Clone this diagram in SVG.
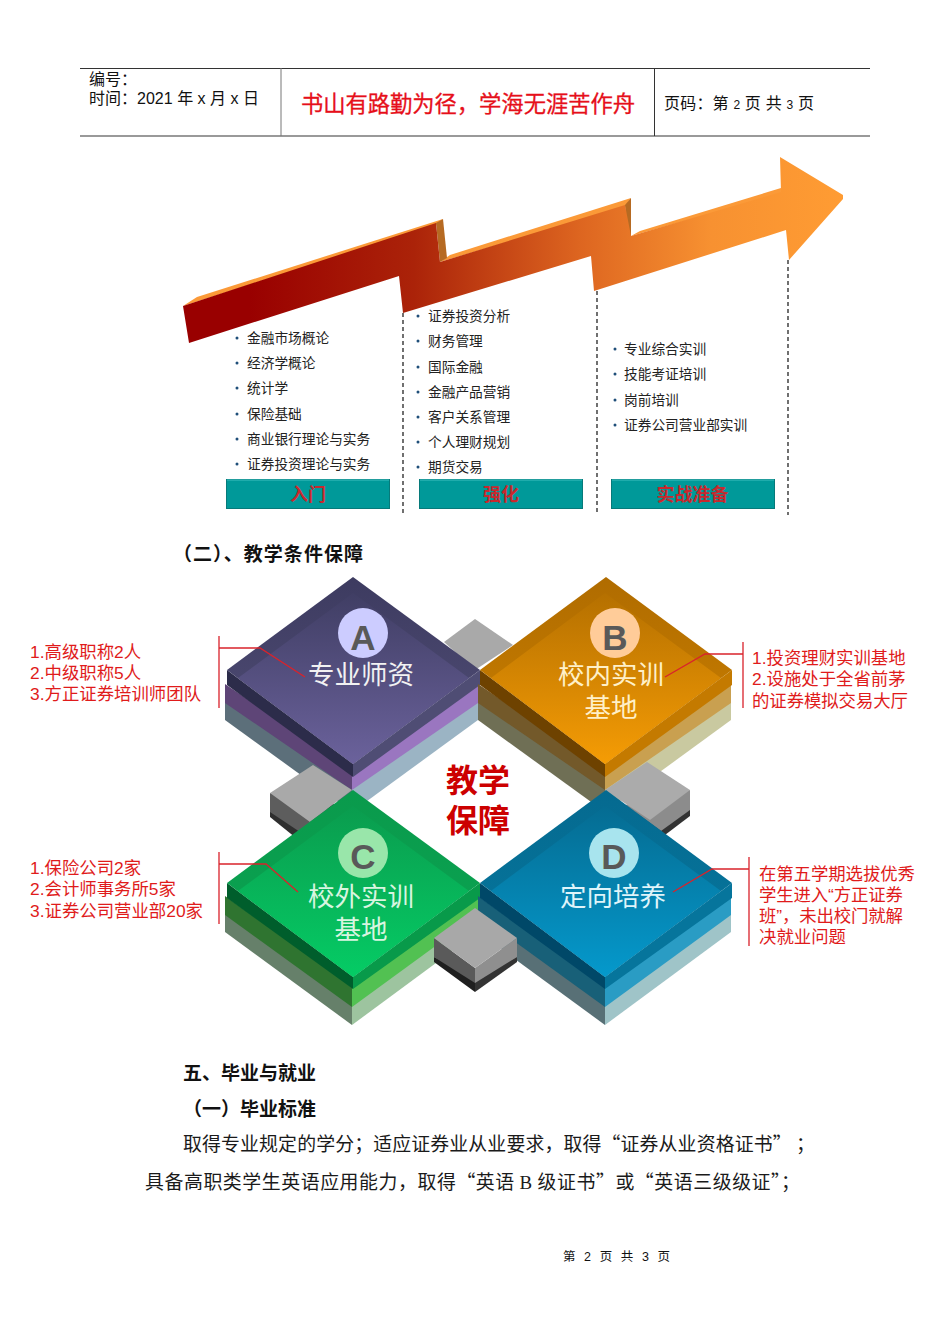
<svg xmlns="http://www.w3.org/2000/svg" width="950" height="1344" viewBox="0 0 950 1344" lang="zh-CN">
<style>
text{font-family:"Liberation Sans","Noto Sans CJK SC",sans-serif}
.blk{fill:#111}
.li{font-size:13.7px;fill:#222}
.dot{fill:#1f4e79}
.btn{font-size:18px;font-weight:bold;fill:#c8282d;text-anchor:middle}
.rd{font-size:17.4px;fill:#e01b1b}
.call{stroke:#d9232b;stroke-width:1.3;fill:none}
.dash{stroke:#111;stroke-width:1.2;stroke-dasharray:4 3;fill:none}
.lab{font-size:26.5px;fill:#f2f2f2;text-anchor:middle}
.let{font-size:35px;font-weight:bold;fill:#595959;text-anchor:middle}
.body{font-size:18.9px;fill:#1a1a1a;font-family:"Noto Sans CJK SC",sans-serif}
.head{font-size:19px;font-weight:bold;fill:#111}
.tbtn{fill:#009999;stroke:#067a7a;stroke-width:1}
.hi{stroke:#3fc0c0;stroke-width:1;fill:none}
</style>
<defs>
<linearGradient id="ar" gradientUnits="userSpaceOnUse" x1="183" y1="0" x2="843" y2="0">
<stop offset="0.1" stop-color="#990000"/><stop offset="0.35" stop-color="#ab2309"/><stop offset="0.6" stop-color="#dd6520"/><stop offset="0.8" stop-color="#f79131"/><stop offset="1" stop-color="#ff9c33"/>
</linearGradient>
<linearGradient id="ao" x1="0" y1="0" x2="0" y2="1"><stop offset="0" stop-color="#3d3b60"/><stop offset="1" stop-color="#524f78"/></linearGradient>
<linearGradient id="ga" x1="0" y1="0" x2="0" y2="1"><stop offset="0" stop-color="#403e64"/><stop offset="1" stop-color="#6b629c"/></linearGradient>
<linearGradient id="bo" x1="0" y1="0" x2="0" y2="1"><stop offset="0" stop-color="#b06c00"/><stop offset="1" stop-color="#cc8000"/></linearGradient>
<linearGradient id="gb" x1="0" y1="0" x2="0" y2="1"><stop offset="0" stop-color="#b57000"/><stop offset="1" stop-color="#f59c05"/></linearGradient>
<linearGradient id="co" x1="0" y1="0" x2="0" y2="1"><stop offset="0" stop-color="#0a9a4c"/><stop offset="1" stop-color="#0aa552"/></linearGradient>
<linearGradient id="gc" x1="0" y1="0" x2="0" y2="1"><stop offset="0" stop-color="#0a9c4e"/><stop offset="1" stop-color="#05cc65"/></linearGradient>
<linearGradient id="do" x1="0" y1="0" x2="0" y2="1"><stop offset="0" stop-color="#056a90"/><stop offset="1" stop-color="#06789f"/></linearGradient>
<linearGradient id="gd" x1="0" y1="0" x2="0" y2="1"><stop offset="0" stop-color="#056c92"/><stop offset="1" stop-color="#0599cc"/></linearGradient>
</defs>

<g id="header">
<path d="M80 68.500H870" stroke="#333" stroke-width="1"/>
<path d="M80 136H870" stroke="#777" stroke-width="1.500"/>
<path d="M281 68V136" stroke="#777"/>
<path d="M654.500 68V136" stroke="#333"/>
<text class="blk" x="89" y="85" font-size="16">编号：</text>
<text class="blk" x="89" y="104" font-size="16" textLength="170">时间：2021 年 x 月 x 日</text>
<text x="301" y="112" font-size="22.300" fill="#e60f1a" stroke="#e60f1a" stroke-width="0.300" textLength="334">书山有路勤为径，学海无涯苦作舟</text>
<text class="blk" x="664" y="109" font-size="16" textLength="150">页码：第 <tspan font-size="12">2</tspan> 页  共 <tspan font-size="12">3</tspan> 页</text>
</g>

<g id="arrow">
<polygon fill="#fb9a38" points="183,306 197,297 443,219 436,225"/>
<polygon fill="#fb9a38" points="440,262 450,255 631,198 625,207"/>
<polygon fill="#fb9a38" points="631,236 640,231 781,188 781,194"/>
<polygon fill="#b66a22" points="436,223 443,219 447,258 440,262"/>
<polygon fill="#b66a22" points="625,205 631,198 631,236 627,238"/>
<polygon fill="url(#ar)" points="183,306 436,223 440,262 625,205 631,236 781,192 780,157 843,195 843,199 789,260 786,230 594,291 591,256 403,313 399,276 189,343"/>
</g>

<g id="col1">
<g class="dot"><circle cx="237" cy="338" r="1.500"/><circle cx="237" cy="363" r="1.500"/><circle cx="237" cy="388" r="1.500"/><circle cx="237" cy="414" r="1.500"/><circle cx="237" cy="439" r="1.500"/><circle cx="237" cy="464" r="1.500"/></g>
<text class="li" x="247" y="343">金融市场概论</text>
<text class="li" x="247" y="368">经济学概论</text>
<text class="li" x="247" y="393">统计学</text>
<text class="li" x="247" y="419">保险基础</text>
<text class="li" x="247" y="444">商业银行理论与实务</text>
<text class="li" x="247" y="469">证券投资理论与实务</text>
<rect class="tbtn" x="226.500" y="479.500" width="163" height="29"/><path class="hi" d="M227 480H389"/>
<text class="btn" x="308" y="501">入门</text>
</g>
<g id="col2">
<g class="dot"><circle cx="418" cy="316" r="1.500"/><circle cx="418" cy="341" r="1.500"/><circle cx="418" cy="367" r="1.500"/><circle cx="418" cy="392" r="1.500"/><circle cx="418" cy="417" r="1.500"/><circle cx="418" cy="442" r="1.500"/><circle cx="418" cy="467" r="1.500"/></g>
<text class="li" x="428" y="321">证券投资分析</text>
<text class="li" x="428" y="346">财务管理</text>
<text class="li" x="428" y="372">国际金融</text>
<text class="li" x="428" y="397">金融产品营销</text>
<text class="li" x="428" y="422">客户关系管理</text>
<text class="li" x="428" y="447">个人理财规划</text>
<text class="li" x="428" y="472">期货交易</text>
<rect class="tbtn" x="419.500" y="479.500" width="163" height="29"/><path class="hi" d="M420 480H582"/>
<text class="btn" x="501" y="501">强化</text>
</g>
<g id="col3">
<g class="dot"><circle cx="615" cy="349" r="1.500"/><circle cx="615" cy="374" r="1.500"/><circle cx="615" cy="400" r="1.500"/><circle cx="615" cy="425" r="1.500"/></g>
<text class="li" x="624" y="354">专业综合实训</text>
<text class="li" x="624" y="379">技能考证培训</text>
<text class="li" x="624" y="405">岗前培训</text>
<text class="li" x="624" y="430">证券公司营业部实训</text>
<rect class="tbtn" x="611.500" y="479.500" width="163" height="29"/><path class="hi" d="M612 480H774"/>
<text class="btn" x="692.500" y="501">实战准备</text>
</g>

<text class="head" x="173" y="561" textLength="190">（二）、教学条件保障</text>

<g id="cube-top">
<polygon fill="#a9a9a9" points="475,619 444,642 475,670 513,645"/>
</g>

<g id="node-a">
<polygon fill="#5c6f7a" points="225,701 225,720 352,812 352,787"/>
<polygon fill="#9bb4c4" points="478,701 478,720 352,812 352,787"/>
<polygon fill="#5e4577" points="225,684 225,703 352,790 352,770"/>
<polygon fill="#9a76c0" points="478,684 478,703 352,790 352,770"/>
<polygon fill="#2c2c4a" points="227,670 227,685 353,777 353,764"/>
<polygon fill="#4f4d74" points="480,670 480,685 353,777 353,764"/>
<polygon fill="url(#ao)" points="353,577 480,670 353,764 227,670"/>
<polygon fill="url(#ga)" points="353,593 469,678 353,764 238,678"/>
<circle cx="363" cy="633" r="25" fill="#ccccff"/>
<text class="let" x="363" y="650">A</text>
<text class="lab" x="361" y="684">专业师资</text>
</g>

<g id="node-b">
<polygon fill="#6f6f55" points="478,701 478,720 605,812 605,787"/>
<polygon fill="#c9c9a0" points="731,701 731,720 605,812 605,787"/>
<polygon fill="#73592a" points="478,684 478,703 605,790 605,770"/>
<polygon fill="#c9a050" points="731,684 731,703 605,790 605,770"/>
<polygon fill="#6e4200" points="480,670 480,685 605,777 605,764"/>
<polygon fill="#c47a00" points="732,670 732,685 605,777 605,764"/>
<polygon fill="url(#bo)" points="606,577 732,670 605,764 480,670"/>
<polygon fill="url(#gb)" points="605,593 721,678 605,764 491,678"/>
<circle cx="615" cy="633" r="25" fill="#ffcc99"/>
<text class="let" x="615" y="650">B</text>
<text class="lab" x="611" y="684" style="fill:#fff0c8">校内实训</text>
<text class="lab" x="611" y="717" style="fill:#fff0c8">基地</text>
</g>

<g id="cube-left">
<polygon fill="#2f2f2f" points="270,810 270,817 296,838 352,810 320,800"/>
<polygon fill="#5d5d5d" points="270,793 270,812 300,832 330,810"/>
<polygon fill="#a9a9a9" points="313,765 270,793 310,822 352,790"/>
</g>
<g id="cube-right">
<polygon fill="#333" points="690,808 690,816 661,838 630,815"/>
<polygon fill="#8c8c8c" points="690,790 690,810 661,831 625,805"/>
<polygon fill="#ababab" points="647,762 690,790 650,820 605,790"/>
</g>

<g id="node-c">
<polygon fill="#66806a" points="225,914 225,932 352,1025 352,1005"/>
<polygon fill="#9dc49f" points="478,914 478,932 352,1025 352,1005"/>
<polygon fill="#2f7430" points="225,896 225,915 352,1007 352,986"/>
<polygon fill="#52c152" points="478,896 478,915 352,1007 352,986"/>
<polygon fill="#005e2c" points="227,883 227,898 353,989 353,977"/>
<polygon fill="#089a4a" points="480,883 480,898 353,989 353,977"/>
<polygon fill="url(#co)" points="353,790 480,883 353,977 227,883"/>
<polygon fill="url(#gc)" points="353,806 469,891 353,977 238,891"/>
<circle cx="363" cy="853" r="25" fill="#99e6aa"/>
<text class="let" x="363" y="869">C</text>
<text class="lab" x="361" y="906" style="fill:#d8f5e0">校外实训</text>
<text class="lab" x="361" y="939" style="fill:#d8f5e0">基地</text>
</g>

<g id="node-d">
<polygon fill="#587076" points="478,914 478,932 605,1025 605,1005"/>
<polygon fill="#9fc4c8" points="731,914 731,932 605,1025 605,1005"/>
<polygon fill="#186078" points="478,896 478,915 605,1007 605,986"/>
<polygon fill="#2a9cc4" points="731,896 731,915 605,1007 605,986"/>
<polygon fill="#004868" points="480,883 480,898 605,989 605,977"/>
<polygon fill="#06759c" points="732,883 732,898 605,989 605,977"/>
<polygon fill="url(#do)" points="606,790 732,883 605,977 480,883"/>
<polygon fill="url(#gd)" points="605,806 721,891 605,977 491,891"/>
<circle cx="614" cy="853" r="25" fill="#a8e4ee"/>
<text class="let" x="614" y="869">D</text>
<text class="lab" x="613" y="906" style="fill:#dff4fa">定向培养</text>
</g>

<g id="cube-bottom">
<polygon fill="#1f1f1f" points="434,957 434,962 475,992 475,977"/>
<polygon fill="#333" points="517,957 517,962 475,992 475,977"/>
<polygon fill="#5a5a5a" points="434,938 434,957 475,983 475,968"/>
<polygon fill="#8f8f8f" points="517,938 517,957 475,983 475,968"/>
<polygon fill="#a8a8a8" points="475,908 517,938 475,968 434,938"/>
</g>

<g id="connectors">
<path class="dash" d="M403 313V513M597 291V512M788 260V515"/>
<path class="call" d="M219 636V708M219 648H260L305 677"/>
<path class="call" d="M743 642V708M743 654H705L665 677"/>
<path class="call" d="M219 852V924M219 864H266L298 892"/>
<path class="call" d="M749 857V946M749 869H712L673 892"/>
</g>

<g id="center-label" font-size="32" font-weight="bold" fill="#cc0000" text-anchor="middle">
<text x="478" y="792">教学</text>
<text x="478" y="832">保障</text>
</g>

<g id="callouts">
<text class="rd" x="30" y="658">1.高级职称2人</text>
<text class="rd" x="30" y="679">2.中级职称5人</text>
<text class="rd" x="30" y="700">3.方正证券培训师团队</text>
<text class="rd" x="752" y="664">1.投资理财实训基地</text>
<text class="rd" x="752" y="685">2.设施处于全省前茅</text>
<text class="rd" x="752" y="707" textLength="156">的证券模拟交易大厅</text>
<text class="rd" x="30" y="874">1.保险公司2家</text>
<text class="rd" x="30" y="895">2.会计师事务所5家</text>
<text class="rd" x="30" y="917">3.证券公司营业部20家</text>
<text class="rd" x="759" y="880" textLength="156">在第五学期选拔优秀</text>
<text class="rd" x="759" y="901" textLength="144">学生进入“方正证券</text>
<text class="rd" x="759" y="922" textLength="144">班”，未出校门就解</text>
<text class="rd" x="759" y="943" textLength="87">决就业问题</text>
</g>

<g id="footer-text">
<text class="head" x="183" y="1080">五、毕业与就业</text>
<text class="head" x="183" y="1116">（一）毕业标准</text>
<text class="body" x="183" y="1151" textLength="632">取得专业规定的学分；适应证券业从业要求，取得“证券从业资格证书” ；</text>
<text class="body" x="145" y="1189" textLength="655">具备高职类学生英语应用能力，取得“英语 <tspan font-family="Liberation Serif">B</tspan> 级证书”或“英语三级级证”；</text>
<text class="blk" x="563" y="1261" font-size="12.500" textLength="107">第 2 页 共 3 页</text>
</g>
</svg>
